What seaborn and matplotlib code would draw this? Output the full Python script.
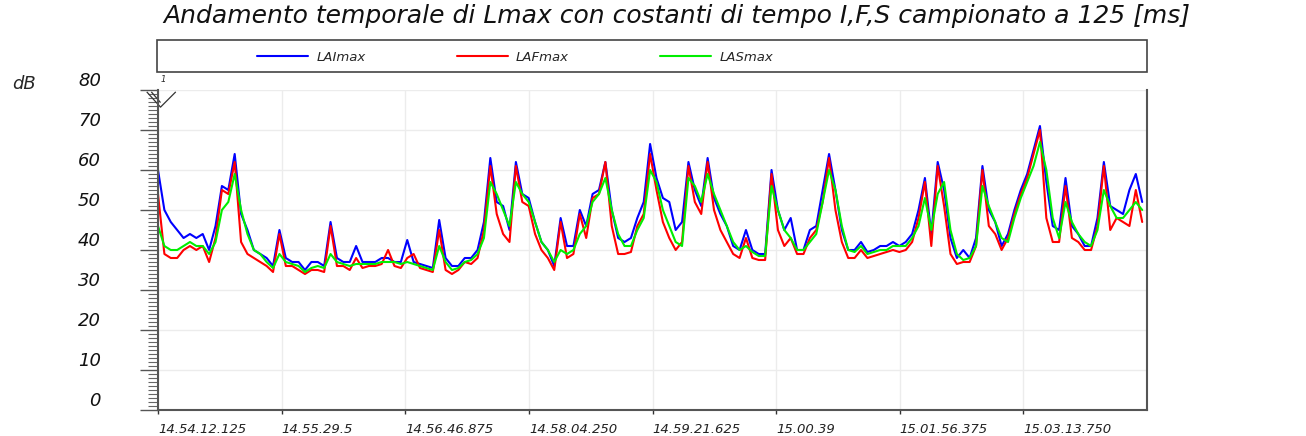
import numpy as np
import pandas as pd
import matplotlib
matplotlib.use("Agg")
import matplotlib.pyplot as plt
from matplotlib.ticker import MultipleLocator
from matplotlib.patches import Rectangle
from matplotlib.path import Path
import seaborn as sns

# tempo in secondi dall'inizio (14.54.12.125), un punto ogni 4 s
tempo_s = np.arange(0, 620, 4)

LAImax = [
    60, 50, 47, 45, 43, 44, 43, 44, 40, 46,
    56, 55, 64, 49, 45, 40, 39, 38, 36, 45,
    38, 37, 37, 35, 37, 37, 36, 47, 38, 37,
    37, 41, 37, 37, 37, 38, 38, 37, 37, 42.5,
    37, 36.5, 36, 35.5, 47.5, 38, 36, 36, 38, 38,
    40, 47, 63, 52, 51, 45, 62, 54, 53, 47,
    42, 40, 36, 48, 41, 41, 50, 46, 54, 55,
    62, 50, 43, 42, 43, 48, 52, 66.5, 58, 53,
    52, 45, 47, 62, 55, 51, 63, 53, 49, 46,
    41, 40, 45, 40, 39, 39, 60, 50, 45, 48,
    40, 40, 45, 46, 55, 64, 55, 45, 40, 40,
    42, 39.5, 40, 41, 41, 42, 41, 42, 44, 50,
    58, 44, 62, 55, 43, 38, 40, 38, 43, 61,
    50, 47, 41, 44, 50, 55, 59, 65, 71, 57,
    46, 45, 58, 46, 44, 41, 41, 48, 62, 51,
    50, 49, 55, 59, 52,
]
LAFmax = [
    54, 39, 38, 38, 40, 41, 40, 41, 37, 43,
    55, 54, 62, 42, 39, 38, 37, 36, 34.5, 44,
    36, 36, 35, 34, 35, 35, 34.5, 46, 36, 36,
    35, 38, 35.5, 36, 36, 36.5, 40, 36, 35.5, 38,
    39, 35.5, 35, 34.5, 45, 35, 34, 35, 37, 36.5,
    38, 45, 61, 49, 44, 42, 61, 52, 51, 44,
    40, 38, 35, 47, 38, 39, 49, 43, 53, 54,
    62, 46, 39, 39, 39.5, 46, 49, 64, 55, 47,
    43, 40, 42, 61, 52, 49, 62, 50, 45, 42,
    39, 38, 43, 38, 37.5, 37.5, 59, 45, 41, 43,
    39, 39, 43, 45, 52, 63, 50, 42, 38, 38,
    40, 38, 38.5, 39, 39.5, 40, 39.5, 40, 42, 48,
    57, 41, 61, 51, 39, 36.5, 37, 37, 41, 60,
    46, 44, 40, 43, 49, 54, 58, 64, 70, 48,
    42, 42, 56, 43, 42, 40, 40, 46, 61, 45,
    48, 47, 46, 55, 47,
]
LASmax = [
    46, 41, 40, 40, 41, 42, 41, 41, 39, 42,
    50, 52, 59, 50, 44, 40, 39, 37, 35.5, 39,
    37, 36.5, 36, 34.5, 35.5, 36, 35.5, 39, 37, 36.5,
    36, 36.5, 36.5, 36.5, 36.5, 37, 37, 37, 36.5, 37,
    36.5, 36, 35.5, 35, 41, 37, 35, 35.5, 37, 37.5,
    39, 43, 57, 54, 50, 46, 57, 54, 52, 47,
    42, 40, 37, 40, 39, 40, 44, 46, 52, 54,
    58, 50, 44, 41, 41, 45, 48, 60, 57, 50,
    46, 42, 41, 58, 56, 52, 59, 54, 50, 46,
    42, 40, 41, 39.5, 38.5, 38.5, 56, 50, 45, 43,
    40, 40, 42, 44, 52, 60, 55, 46, 40, 39.5,
    41, 39, 39.5, 40, 40, 41, 41, 41, 43, 46,
    53, 45, 54, 57, 45, 39, 37.5, 38, 41, 56,
    51, 47, 43, 42, 48, 53, 57, 61, 67, 60,
    48, 43, 52, 47, 44, 42, 41, 45, 55, 51,
    48, 48, 50, 52, 50,
]

serie = ["LAImax", "LAFmax", "LASmax"]
colori = ["#0000ff", "#ff0000", "#00ee00"]

tick_pos = [0, 77.375, 154.75, 232.125, 309.5, 386.875, 464.25, 541.625]
tick_lab = ["14.54.12.125", "14.55.29.5", "14.56.46.875", "14.58.04.250",
            "14.59.21.625", "15.00.39", "15.01.56.375", "15.03.13.750"]

titolo = "Andamento temporale di Lmax con costanti di tempo I,F,S campionato a 125 [ms]"

df = pd.DataFrame({"t": tempo_s, "LAImax": LAImax, "LAFmax": LAFmax, "LASmax": LASmax})

sns.set_style("white")
plt.rcParams["font.family"] = ["DejaVu Sans"]

W, H = 1306, 436
fig = plt.figure(figsize=(W / 100, H / 100), dpi=100)
ax = fig.add_axes([158 / W, 1 - 410 / H, 989 / W, 320 / H])

for nome, col in zip(serie, colori):
    sns.lineplot(data=df, x="t", y=nome, ax=ax, color=col, lw=1.5,
                 label=nome, legend=False)

ax.set_xlim(0, 619)
ax.set_ylim(0, 80)
ax.set_xlabel("")
ax.set_ylabel("")

ax.set_yticks(range(0, 81, 10))
ax.yaxis.set_minor_locator(MultipleLocator(1))
ax.set_yticklabels([str(v) for v in range(0, 81, 10)], fontsize=13,
                   style="italic", color="#111111")
for lab in ax.get_yticklabels():
    lab.set_verticalalignment("bottom")
ax.tick_params(axis="y", which="major", direction="out", length=13,
               width=1, color="#555555", pad=28, left=True)
ax.tick_params(axis="y", which="minor", direction="out", length=7,
               width=0.8, color="#666666", left=True)

ax.set_xticks(tick_pos)
ax.set_xticklabels(tick_lab, fontsize=9.5, style="italic", color="#222222", ha="left")
ax.tick_params(axis="x", which="major", direction="out", length=3,
               width=1, color="#333333", pad=6, bottom=True)

ax.grid(True, color="#ececec", lw=1)
for s in ["left", "bottom", "right"]:
    ax.spines[s].set_color("#555555")
    ax.spines[s].set_linewidth(1.5)
ax.spines["top"].set_visible(False)

# marcatore cursore in alto a sinistra
cursore = Path([(-0.9, 0.5), (0, -0.5), (1, 0.5), (-0.6, 0.5), (0, -0.2)],
               [Path.MOVETO, Path.LINETO, Path.LINETO, Path.MOVETO, Path.LINETO])
ax.plot([1.5], [77.8], marker=cursore, ms=22, mfc="none", mec="#333333", mew=0.9,
        clip_on=False)
fig.text(161 / W, 1 - 79 / H, "1", fontsize=6, style="italic", ha="left", va="center")

fig.text(12 / W, 1 - 84 / H, "dB", fontsize=13, style="italic", ha="left", va="center")

fig.text(163 / W, 1 - 16 / H, titolo, fontsize=18, style="italic",
         ha="left", va="center", color="#111111")

# riquadro legenda
fig.patches.append(Rectangle((157 / W, 1 - 72 / H), 990 / W, 32 / H,
                             transform=fig.transFigure, fill=False,
                             edgecolor="#444444", lw=1.2))
handles, labels = ax.get_legend_handles_labels()
fig.legend(handles, labels, loc="center left", bbox_to_anchor=(245 / W, 1 - 57 / H),
           ncol=3, frameon=False, handlelength=3.9,
           handletextpad=0.6, columnspacing=6.9, prop={"style": "italic", "size": 9.5})

fig.savefig("out.png", dpi=100)
